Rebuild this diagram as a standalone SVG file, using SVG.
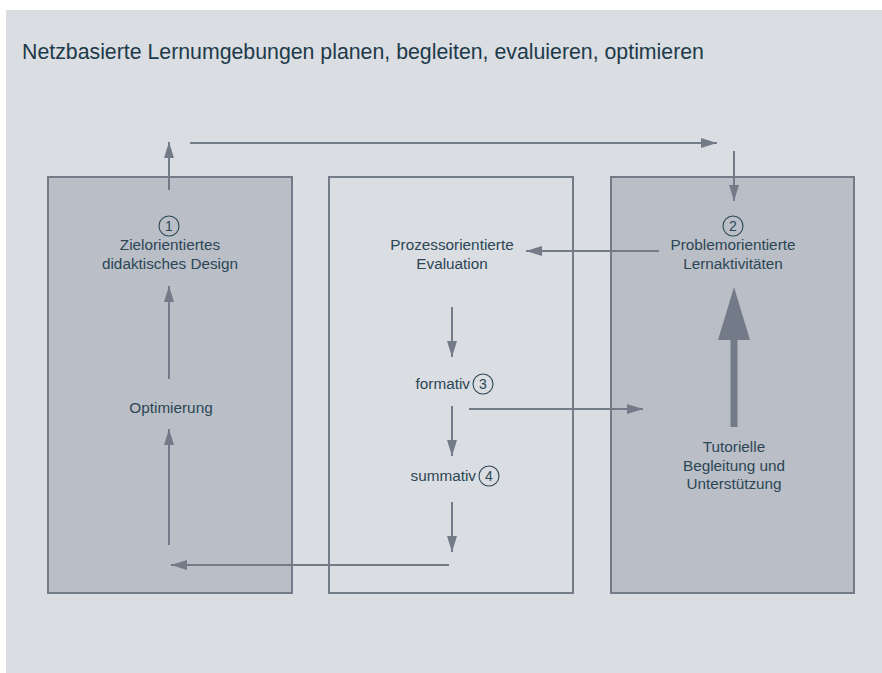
<svg xmlns="http://www.w3.org/2000/svg" width="882" height="673" viewBox="0 0 882 673">
<style>
.t{font-family:"Liberation Sans",Arial,sans-serif;font-size:15.3px;fill:#2c4655;text-anchor:middle}
.box{stroke:#737b88;stroke-width:2}
.side{fill:#babec7}
.mid{fill:#dadde1}
.ln{stroke:#737b88;stroke-width:2;fill:none}
.num{fill:none;stroke:#2c4655;stroke-width:1.1}
.d{font-family:"Liberation Sans",Arial,sans-serif;font-size:14px;fill:#2c4655;text-anchor:middle}
</style>
<defs>
<marker id="ah" viewBox="0 0 16 10" refX="16" refY="5" markerWidth="16" markerHeight="10" markerUnits="userSpaceOnUse" orient="auto">
<path d="M0,0 L16,5 L0,10 Z" fill="#737b88"/>
</marker>
</defs>
<rect x="6" y="10" width="876" height="663" fill="#dadde1"/>
<text x="22" y="59" style="font-family:'Liberation Sans',Arial,sans-serif;font-size:21.3px;fill:#1d3a4a">Netzbasierte Lernumgebungen planen, begleiten, evaluieren, optimieren</text>

<g id="node-left">
<rect class="box side" x="48" y="177" width="244" height="416"/>
<circle class="num" cx="169" cy="226" r="10"/>
<text class="d" x="169" y="231">1</text>
<text class="t" x="170" y="250">Zielorientiertes</text>
<text class="t" x="170" y="269">didaktisches Design</text>
<text class="t" x="171" y="413">Optimierung</text>
</g>

<g id="node-middle">
<rect class="box mid" x="329" y="177" width="244" height="416"/>
<text class="t" x="452" y="250">Prozessorientierte</text>
<text class="t" x="452" y="269">Evaluation</text>
<text class="t" x="470" y="389" style="text-anchor:end">formativ</text>
<circle class="num" cx="483" cy="384" r="10"/>
<text class="d" x="483" y="389">3</text>
<text class="t" x="476" y="481" style="text-anchor:end">summativ</text>
<circle class="num" cx="489" cy="476" r="10"/>
<text class="d" x="489" y="481">4</text>
</g>

<g id="node-right">
<rect class="box side" x="611" y="177" width="243" height="416"/>
<circle class="num" cx="733" cy="226" r="10"/>
<text class="d" x="733" y="231">2</text>
<text class="t" x="733" y="250">Problemorientierte</text>
<text class="t" x="733" y="269">Lernaktivitäten</text>
<text class="t" x="734" y="452">Tutorielle</text>
<text class="t" x="734" y="471">Begleitung und</text>
<text class="t" x="734" y="489">Unterstützung</text>
</g>

<g id="connectors">
<line class="ln" x1="169" y1="190" x2="169" y2="142" marker-end="url(#ah)"/>
<line class="ln" x1="190" y1="143" x2="717" y2="143" marker-end="url(#ah)"/>
<line class="ln" x1="734" y1="151" x2="734" y2="201" marker-end="url(#ah)"/>
<line x1="734" y1="427" x2="734" y2="335" stroke="#737b88" stroke-width="7"/>
<path d="M734,287 L750,340 L718,340 Z" fill="#737b88"/>
<line class="ln" x1="659" y1="251" x2="526" y2="251" marker-end="url(#ah)"/>
<line class="ln" x1="452" y1="307" x2="452" y2="357" marker-end="url(#ah)"/>
<line class="ln" x1="469" y1="409" x2="643" y2="409" marker-end="url(#ah)"/>
<line class="ln" x1="452" y1="406" x2="452" y2="456" marker-end="url(#ah)"/>
<line class="ln" x1="452" y1="502" x2="452" y2="552" marker-end="url(#ah)"/>
<line class="ln" x1="449" y1="565" x2="171" y2="565" marker-end="url(#ah)"/>
<line class="ln" x1="169" y1="545" x2="169" y2="429" marker-end="url(#ah)"/>
<line class="ln" x1="169" y1="379" x2="169" y2="286" marker-end="url(#ah)"/>
</g>
</svg>
